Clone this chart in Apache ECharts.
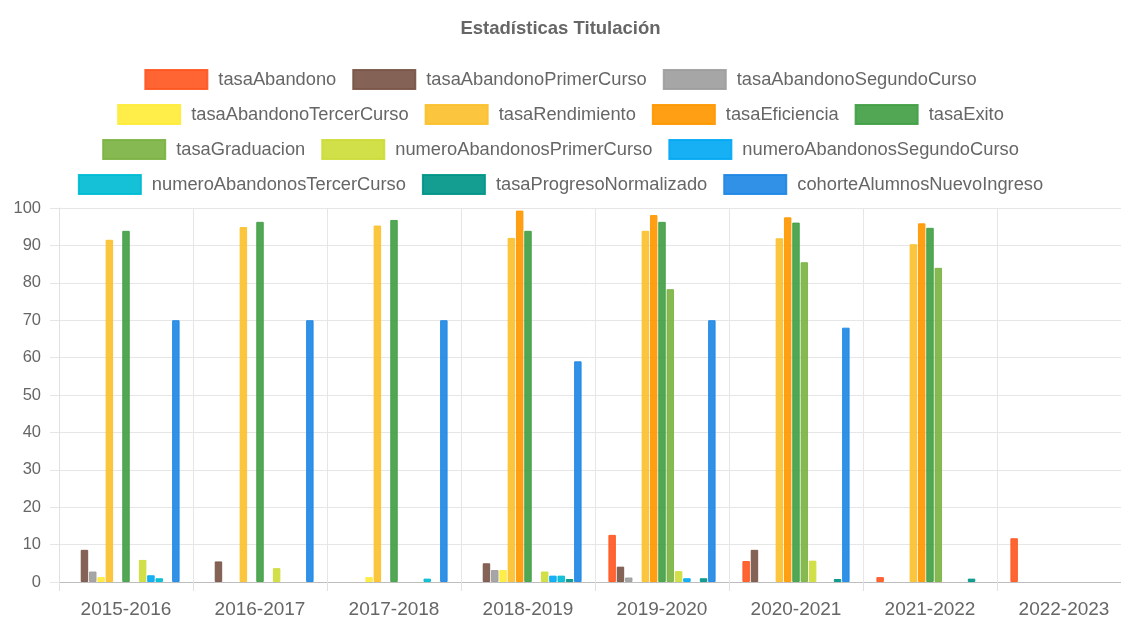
<!DOCTYPE html>
<html>
<head>
<meta charset="utf-8">
<script src="https://cdn.jsdelivr.net/npm/echarts@6/dist/echarts.min.js"></script>
<style>
  html, body { margin: 0; padding: 0; background: #ffffff; }
  #chart { width: 1121px; height: 617px; }
</style>
</head>
<body>
<div id="chart"></div>
<script>
// Academic years on the x axis
const categories = ['2015-2016', '2016-2017', '2017-2018', '2018-2019', '2019-2020', '2020-2021', '2021-2022', '2022-2023'];

// Indicator values per academic year (null = no value reported)
const tasaAbandono               = [null, null, null, null, 12.6, 5.6, 1.3, 11.7];
const tasaAbandonoPrimerCurso    = [8.6, 5.5, null, 5.0, 4.1, 8.6, null, null];
const tasaAbandonoSegundoCurso   = [2.8, null, null, 3.2, 1.2, null, null, null];
const tasaAbandonoTercerCurso    = [1.3, null, 1.3, 3.2, null, null, null, null];
const tasaRendimiento            = [91.5, 94.9, 95.3, 92.0, 93.9, 91.9, 90.3, null];
const tasaEficiencia             = [null, null, null, 99.3, 98.1, 97.5, 95.9, null];
const tasaExito                  = [93.9, 96.3, 96.8, 93.9, 96.3, 96.1, 94.7, null];
const tasaGraduacion             = [null, null, null, null, 78.3, 85.5, 84.0, null];
const numeroAbandonosPrimerCurso = [5.9, 3.7, null, 2.8, 2.9, 5.7, null, null];
const numeroAbandonosSegundoCurso= [1.8, null, null, 1.7, 1.0, null, null, null];
const numeroAbandonosTercerCurso = [1.0, null, 0.9, 1.7, null, null, null, null];
const tasaProgresoNormalizado    = [null, null, null, 0.8, 1.0, 0.8, 0.9, null];
const cohorteAlumnosNuevoIngreso = [70, 70, 70, 59, 70, 68, null, null];

// Y axis ticks
const yTicks = [0, 10, 20, 30, 40, 50, 60, 70, 80, 90, 100];

const seriesDefs = [
  ['tasaAbandono', tasaAbandono, '#FF5722'],
  ['tasaAbandonoPrimerCurso', tasaAbandonoPrimerCurso, '#795548'],
  ['tasaAbandonoSegundoCurso', tasaAbandonoSegundoCurso, '#9E9E9E'],
  ['tasaAbandonoTercerCurso', tasaAbandonoTercerCurso, '#FFEB3B'],
  ['tasaRendimiento', tasaRendimiento, '#FBC02D'],
  ['tasaEficiencia', tasaEficiencia, '#FF9800'],
  ['tasaExito', tasaExito, '#43A047'],
  ['tasaGraduacion', tasaGraduacion, '#7CB342'],
  ['numeroAbandonosPrimerCurso', numeroAbandonosPrimerCurso, '#CDDC39'],
  ['numeroAbandonosSegundoCurso', numeroAbandonosSegundoCurso, '#03A9F4'],
  ['numeroAbandonosTercerCurso', numeroAbandonosTercerCurso, '#00BCD4'],
  ['tasaProgresoNormalizado', tasaProgresoNormalizado, '#009688'],
  ['cohorteAlumnosNuevoIngreso', cohorteAlumnosNuevoIngreso, '#1E88E5']
];

// Legend rows, each centred on its own line
const legendRows = [
  seriesDefs.slice(0, 3).map(d => d[0]),
  seriesDefs.slice(3, 7).map(d => d[0]),
  seriesDefs.slice(7, 10).map(d => d[0]),
  seriesDefs.slice(10, 13).map(d => d[0])
];
const legendTops = [64, 99, 134, 169];

const FONT = '"Liberation Sans", Arial, Helvetica, sans-serif';
const TEXT = '#666666';

const chart = echarts.init(document.getElementById('chart'), null, { renderer: 'canvas' });

chart.setOption({
  animation: false,
  color: seriesDefs.map(d => d[2]),
  title: {
    text: 'Estadísticas Titulación',
    left: 'center',
    top: 14,
    textStyle: { fontFamily: FONT, fontSize: 18.5, fontWeight: 'bold', color: TEXT }
  },
  legend: legendRows.map((row, i) => ({
    data: row,
    left: 'center',
    top: legendTops[i],
    icon: 'rect',
    itemWidth: 62,
    itemHeight: 19,
    itemGap: 16,
    selectedMode: false,
    textStyle: { fontFamily: FONT, fontSize: 18.3, color: TEXT, padding: [0, 0, 0, 6] }
  })),
  grid: {
    left: 59, top: 208, width: 1072, height: 374,
    containLabel: false,
    outerBoundsMode: 'none'
  },
  xAxis: {
    type: 'category',
    data: categories,
    boundaryGap: true,
    axisLine: { show: true, lineStyle: { color: '#bdbdbd', width: 1 } },
    axisTick: { show: true, length: 9, lineStyle: { color: '#e0e0e0' } },
    splitLine: { show: true, lineStyle: { color: '#e6e6e6' } },
    axisLabel: { fontFamily: FONT, fontSize: 19, color: TEXT, margin: 18 }
  },
  yAxis: {
    type: 'value',
    min: yTicks[0],
    max: yTicks[yTicks.length - 1],
    interval: yTicks[1] - yTicks[0],
    axisLine: { show: true, lineStyle: { color: '#e0e0e0' } },
    axisTick: { show: true, length: 9, lineStyle: { color: '#e6e6e6' } },
    splitLine: { show: true, lineStyle: { color: '#e6e6e6' } },
    axisLabel: { fontFamily: FONT, fontSize: 16.5, color: TEXT, margin: 18 }
  },
  series: seriesDefs.map(([name, values, color]) => ({
    name: name,
    type: 'bar',
    data: values,
    barCategoryGap: '20%',
    barGap: '11%',
    itemStyle: { color: color, borderColor: color, borderWidth: 1, opacity: 0.92 }
  }))
});
</script>
</body>
</html>
